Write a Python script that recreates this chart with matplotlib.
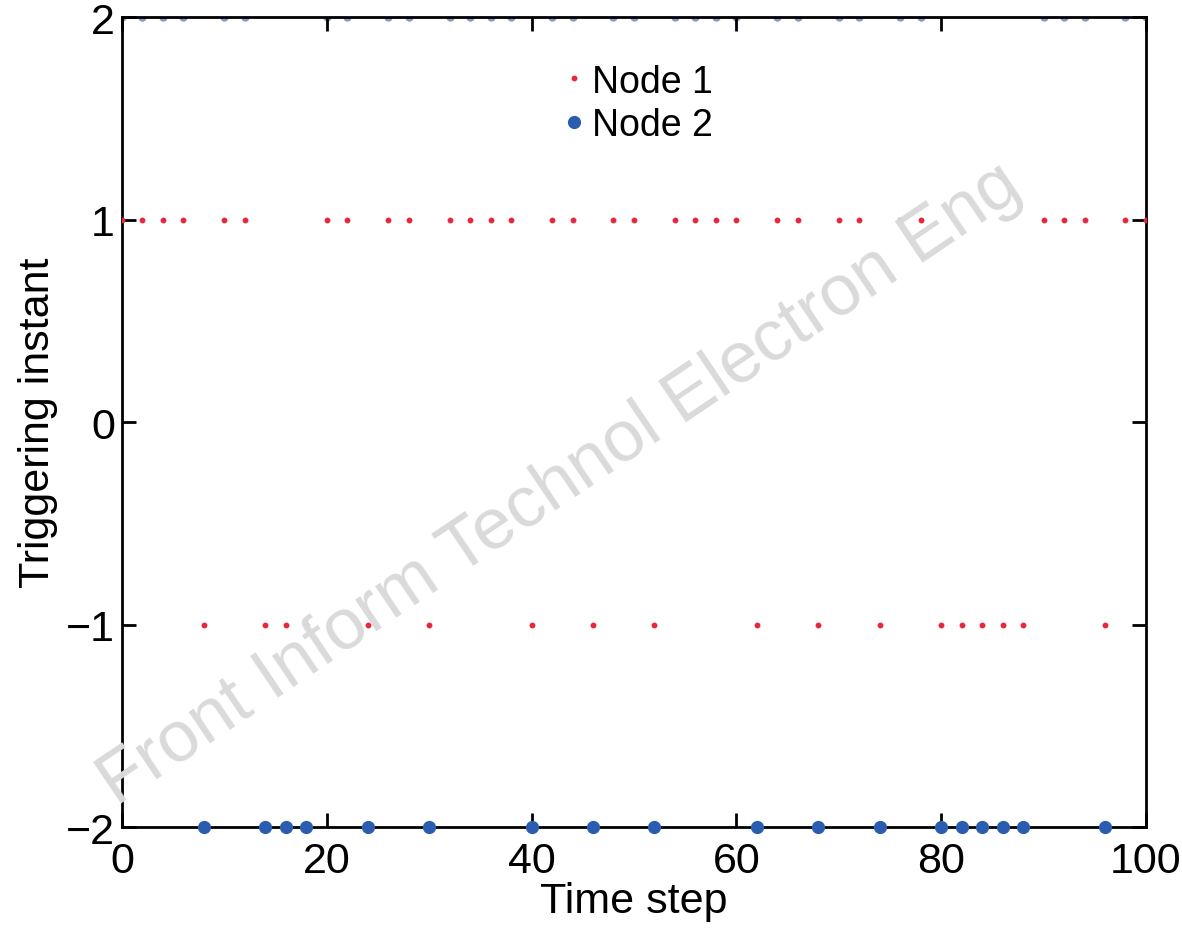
import numpy as np
import matplotlib
matplotlib.use("Agg")
import matplotlib.pyplot as plt

plt.rcParams['font.family'] = ['Liberation Sans', 'DejaVu Sans']

# time steps where node 1 sits at +1 (the rest of the even steps are at -1)
steps = np.arange(0, 101, 2)
node1_up = [0, 2, 4, 6, 10, 12, 20, 22, 26, 28, 32, 34, 36, 38, 42, 44, 48, 50,
            54, 56, 58, 60, 64, 66, 70, 72, 76, 78, 90, 92, 94, 98, 100]
node1_vals = np.array([1 if t in node1_up else -1 for t in steps])
# node 2 triggers at +2 / -2 on the same steps
node2_vals = 2 * node1_vals

xticks = [0, 20, 40, 60, 80, 100]
yticks = [-2, -1, 0, 1, 2]

fig = plt.figure(figsize=(11.82, 9.29), dpi=100)
ax = fig.add_axes([0.1032, 0.1087, 0.8663, 0.8719])

red = '#e8283a'
blue = '#2a5db0'

ax.plot(steps, node1_vals, linestyle='none', marker='o', markersize=3.2,
        color=red, label='Node 1', zorder=3)
low = node2_vals < 0
ax.plot(steps[low], node2_vals[low], linestyle='none', marker='o', markersize=8.5,
        color=blue, label='Node 2', clip_on=False, zorder=4)
ax.plot(steps[~low], node2_vals[~low], linestyle='none', marker='o', markersize=5,
        color='#7f9cc8', clip_on=True, zorder=1)

ax.set_xlim(0, 100)
ax.set_ylim(-2, 2)
ax.set_xticks(xticks)
ax.set_yticks(yticks)
ax.tick_params(direction='in', length=10, width=2, labelsize=31,
               top=True, right=True)
ax.tick_params(axis='x', pad=10)
ax.tick_params(axis='y', pad=5)
for s in ax.spines.values():
    s.set_linewidth(2)
    s.set_zorder(2)

ax.set_xlabel('Time step', fontsize=31, labelpad=0)
ax.set_ylabel('Triggering instant', fontsize=31, labelpad=6)

ax.legend(loc='upper center', bbox_to_anchor=(0.5, 0.975), frameon=False,
          fontsize=27, handletextpad=0.0, handlelength=1.0, labelspacing=0.2,
          borderaxespad=0.3)

fig.text(0.474, 0.478, 'Front Inform Technol Electron Eng', fontsize=52,
         color='#dadada', rotation=34, ha='center', va='center', zorder=0)

fig.savefig('out.png', dpi=100)
